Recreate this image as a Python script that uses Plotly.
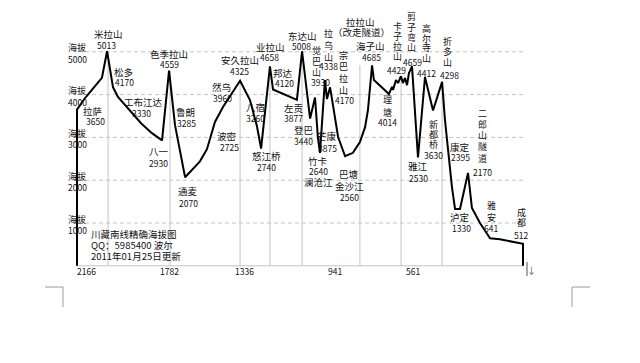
import plotly.graph_objects as go

# ---------------- DATA ----------------
# elevation profile: distance to Chengdu (km) and altitude (m)
profile_km = [2166, 2166, 2127, 2045, 2020, 1991, 1967, 1899, 1855, 1802, 1753, 1719, 1690,
              1641, 1569, 1535, 1496, 1457, 1423, 1399, 1374, 1326, 1292, 1272, 1229, 1214,
              1098, 1073, 1049, 1034, 1010, 996, 986, 962, 952, 937, 927, 898, 864, 826,
              792, 767, 753, 743, 733, 724, 651, 636, 631, 617, 607, 593, 583, 573, 563,
              554, 539, 510, 476, 437, 393, 379, 359, 345, 330, 306, 267, 248, 209, 160,
              112, 0, 0]
profile_alt = [0, 3650, 3920, 4390, 5013, 4170, 3945, 3570, 3330, 3100, 2930, 4559, 3285,
               2070, 2440, 2725, 3360, 3710, 3960, 4160, 4325, 3874, 3260, 2740, 4658, 4120,
               3877, 5008, 4110, 3440, 3930, 2990, 2640, 4338, 3900, 4170, 3875, 3010, 2560, 2640,
               2890, 3240, 3640, 4180, 4685, 4340, 4014, 4180, 4110, 4340, 4270, 4429, 4270, 4390, 4220,
               4500, 4659, 2530, 4412, 3630, 4298, 3410, 2395, 1840, 1330, 1330, 2170, 1350, 1000, 641,
               620, 512, 0]

# peak drop lines (km, altitude)
drop_km = [2015, 1714, 1374, 1229, 1073, 792, 592, 393]
drop_alt = [5013, 4559, 4325, 4658, 5008, 4685, 4429, 4298]

# altitude grid levels
grid_levels = [1000, 2000, 3000, 4000, 5000]
grid_word = "海拔"

# distance tick labels
dist_ticks = ["2166", "1782", "1336", "941", "561"]

# horizontal place labels: name, altitude text, extra line
h_names = ["米拉山", "拉萨", "松多", "工布江达", "色季拉山", "鲁朗", "八一", "通麦", "波密",
           "然乌", "安久拉山", "八宿", "怒江桥", "业拉山", "邦达", "左贡", "东达山", "登巴",
           "竹卡", "芒康", "巴塘", "海子山", "雅江", "康定", "泸定"]
h_alts = ["5013", "3650", "4170", "3330", "4559", "3285", "2930", "2070", "2725",
          "3960", "4325", "3260", "2740", "4658", "4120", "3877", "5008", "3440",
          "2640", "3875", "2560", "4685", "2530", "2395", "1330"]
extra_names = ["澜沧江", "金沙江"]
# vertical place labels
v_names = ["觉巴山", "拉乌山", "宗巴拉山", "理塘", "卡子拉山", "剪子弯山", "高尔寺山", "折多山",
           "新都桥", "二郎山隧道", "雅安", "成都"]
v_alts = ["3930", "4338", "4170", "4014", "4429", "4659", "4412", "4298",
          "3630", "2170", "641", "512"]
note_lines = ["拉拉山", "（改走隧道）"]
credit_lines = ["川藏南线精确海拔图", "QQ：5985400 波尔", "2011年01月25日更新"]

# ---------------- LAYOUT (pixel geometry) ----------------
W, H = 640, 363
L, R = 74, 526
T, B = 14, 268
KM0_PX, KMMAX_PX, KMMAX = 523.0, 77.0, 2166.0
pxkm = (KM0_PX - KMMAX_PX) / KMMAX
x_range = [KMMAX + (KMMAX_PX - L) / pxkm, -(R - KM0_PX) / pxkm]
Y0_PX, pxm = 265.8, 0.0428
y_range = [-(B - Y0_PX) / pxm, (Y0_PX - T) / pxm]

FONT = "Noto Sans CJK SC"
GRAY = "#c4c4c4"


def px2km(px):
    return (KM0_PX - px) / pxkm


def ann(text, px, py, size=10, xanchor="center", color="#111"):
    return dict(text=text, xref="paper", yref="paper",
                x=(px - L) / (R - L), y=(B - py) / (B - T),
                xanchor=xanchor, yanchor="middle", showarrow=False, borderpad=0,
                font=dict(size=size, family=FONT, color=color))


h_pos = [((108, 34), (106, 45)), ((93, 111), (95, 121)), ((123, 72), (124, 82)),
         ((143, 102), (141, 113)), ((169, 54), (169, 64)), ((185, 112), (186, 123)),
         ((159, 151), (158, 163)), ((188, 191), (188, 203)), ((227, 136), (229, 147)),
         ((221, 87), (222, 98)), ((240, 60), (239, 71)), ((255, 107), (255, 118)),
         ((266, 156), (266, 167)), ((270, 47), (269, 57)), ((283, 73), (284, 83)),
         ((293, 108), (293, 118)), ((302, 36), (301, 46)), ((303, 130), (303, 141)),
         ((318, 161), (318, 171)), ((327, 136), (327, 148)), ((349, 174), (349, 197)),
         ((370, 46), (371, 57)), ((418, 166), (418, 178)), ((460, 147), (460, 157)),
         ((460, 217), (461, 228))]
extra_pos = [(318, 182), (349, 186)]
v_pos = [(316, 51, 10.5, (320, 82)), (328, 34, 11.5, (328, 66)), (343, 55, 11.7, (344, 100)),
         (387, 100, 12, (387, 122)), (397, 26, 10.3, (396, 70)), (411, 17, 10.3, (412, 62)),
         (426, 28, 10, (426, 73)), (447, 41, 10.5, (449, 75)), (433, 124, 10, (433, 155)),
         (482, 113, 11.3, (482, 172)), (491, 205, 12, (491, 228)), (521, 212, 10, (521, 235))]
note_pos = [(360, 22), (361, 32)]
tick_pos = [86, 169, 244, 335, 413]
credit_pos = [234, 245, 256]

fig = go.Figure()
fig.add_trace(go.Scatter(x=profile_km, y=profile_alt, mode="lines",
                         line=dict(color="#000", width=2), hoverinfo="skip",
                         showlegend=False))

shapes = []
# dashed altitude grid
for lv in grid_levels:
    shapes.append(dict(type="line", xref="x", yref="y", x0=px2km(85), x1=px2km(526),
                       y0=lv, y1=lv, layer="below",
                       line=dict(color=GRAY, width=1, dash="4px,3px")))
# peak drop lines
for k, a in zip(drop_km, drop_alt):
    shapes.append(dict(type="line", xref="x", yref="y", x0=k, x1=k, y0=0, y1=a,
                       layer="below", line=dict(color=GRAY, width=1)))
# baseline
shapes.append(dict(type="line", xref="x", yref="y", x0=px2km(77), x1=px2km(524),
                   y0=0, y1=0, layer="below", line=dict(color=GRAY, width=1)))
# page corner marks
for pts in ([(45, 287), (63, 287), (63, 307)], [(590, 287), (572, 287), (572, 307)]):
    path = "M {} {} L {} {} L {} {}".format(
        *[v for p in pts for v in ((p[0] - L) / (R - L), (B - p[1]) / (B - T))])
    shapes.append(dict(type="path", xref="paper", yref="paper", path=path,
                       line=dict(color="#9a9a9a", width=1)))
# cursor mark
shapes.append(dict(type="line", xref="paper", yref="paper",
                   x0=(527 - L) / (R - L), x1=(527 - L) / (R - L),
                   y0=(B - 262) / (B - T), y1=(B - 276) / (B - T),
                   line=dict(color="#555", width=1)))

anns = []
for lv in grid_levels:
    gy = Y0_PX - lv * pxm
    anns.append(ann(grid_word, 67, gy - 4, size=9, xanchor="left"))
    anns.append(ann(str(lv), 67, gy + 7, size=8.5, xanchor="left"))
for name, alt_t, (npos, apos) in zip(h_names, h_alts, h_pos):
    anns.append(ann(name, npos[0], npos[1], size=9.5))
    anns.append(ann(alt_t, apos[0], apos[1], size=8.5))
for name, p in zip(extra_names, extra_pos):
    anns.append(ann(name, p[0], p[1], size=9.5))
for name, alt_t, (vx, vy, step, apos) in zip(v_names, v_alts, v_pos):
    for i, ch in enumerate(name):
        anns.append(ann(ch, vx, vy + i * step, size=9))
    anns.append(ann(alt_t, apos[0], apos[1], size=8.5))
for t, p in zip(note_lines, note_pos):
    anns.append(ann(t, p[0], p[1], size=9.5))
for t, px in zip(dist_ticks, tick_pos):
    anns.append(ann(t, px, 271, size=8.5))
for t, py in zip(credit_lines, credit_pos):
    anns.append(ann(t, 90, py, size=9.5, xanchor="left"))
anns.append(ann("↓", 531, 270, size=9, color="#555"))

fig.update_layout(
    width=W, height=H, autosize=False,
    margin=dict(l=L, r=W - R, t=T, b=H - B, pad=0),
    paper_bgcolor="white", plot_bgcolor="white",
    xaxis=dict(range=x_range, visible=False, showgrid=False, zeroline=False),
    yaxis=dict(range=y_range, visible=False, showgrid=False, zeroline=False),
    shapes=shapes, annotations=anns, showlegend=False,
)

fig.write_html("out.html")
